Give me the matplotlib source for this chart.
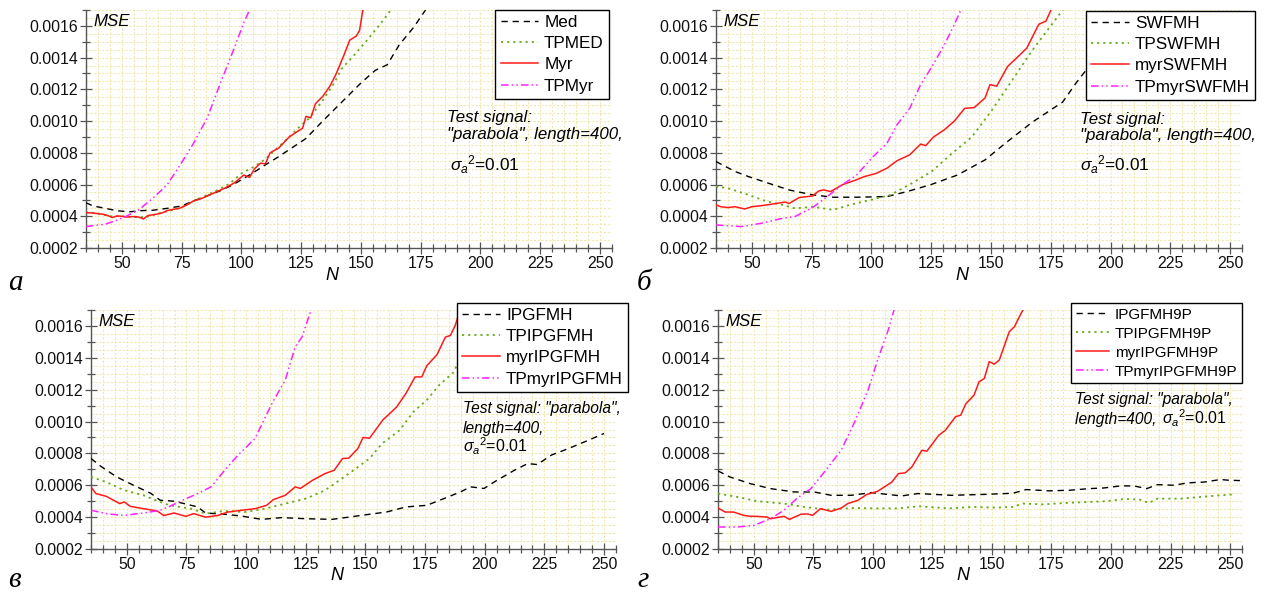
import numpy as np
import matplotlib
matplotlib.use("Agg")
import matplotlib.pyplot as plt

plt.rcParams['font.family'] = ['Liberation Sans', 'DejaVu Sans']
plt.rcParams['mathtext.fontset'] = 'custom'
plt.rcParams['mathtext.rm'] = 'Liberation Sans'
plt.rcParams['mathtext.it'] = 'Liberation Sans:italic'

SCALE = 1e-4  # values below are in units of 1e-4

# ---------------- panel a ----------------
a_med_x = [35, 38, 43, 48, 53, 59, 63, 69, 75, 80, 85, 91, 96, 100, 105, 110, 115, 120, 127, 134, 138, 142, 146, 150, 156, 161, 166, 172, 177]
a_med_y = [4.85, 4.65, 4.5, 4.35, 4.28, 4.36, 4.38, 4.5, 4.65, 4.97, 5.25, 5.6, 5.95, 6.3, 6.75, 7.24, 7.7, 8.2, 8.9, 10.0, 10.6, 11.2, 11.8, 12.4, 13.2, 13.55, 14.8, 15.9, 17.0]
a_tpmed_x = [35, 40, 45, 50, 55, 60, 65, 70, 75, 80, 85, 90, 95, 100, 105, 110, 115, 120, 124, 128.5, 134, 138, 142, 148, 152, 158, 163]
a_tpmed_y = [4.25, 4.18, 4.0, 4.0, 3.95, 3.95, 4.15, 4.35, 4.55, 4.95, 5.3, 5.65, 6.05, 6.7, 7.1, 7.6, 8.3, 9.0, 9.6, 10.2, 11.3, 12.2, 13.3, 14.3, 15.0, 16.1, 17.1]
a_myr_x = [35, 38, 42, 44, 46, 48, 50, 52, 54.5, 57, 59, 61, 64.5, 67, 69, 72, 74, 77, 80, 83, 86, 89, 93, 97, 101, 103.4, 105.5, 108, 110, 112, 115.6, 120, 123, 125.6, 127, 129, 131, 134, 137, 139.7, 143, 145.3, 148, 149.4, 151]
a_myr_y = [4.23, 4.2, 4.13, 4.05, 3.92, 4.02, 4.0, 3.95, 3.98, 3.95, 3.83, 4.05, 4.13, 4.22, 4.36, 4.45, 4.5, 4.7, 4.97, 5.1, 5.3, 5.5, 5.77, 6.1, 6.6, 6.45, 7.0, 7.35, 7.3, 8.0, 8.3, 9.0, 9.3, 9.55, 10.3, 10.2, 11.1, 11.55, 12.2, 13.0, 14.2, 15.1, 15.35, 15.7, 17.2]
a_tpmyr_x = [35, 43, 47, 51.6, 57, 63, 69, 74, 80, 85.7, 91, 97, 101, 104]
a_tpmyr_y = [3.35, 3.5, 3.7, 3.98, 4.4, 5.14, 6.0, 7.14, 8.6, 10.2, 12.3, 14.6, 16.2, 17.2]

# ---------------- panel b ----------------
b_sw_x = [35, 43, 48.6, 57, 65.5, 75.4, 84, 94, 106.5, 115, 125, 136, 147.5, 156, 167, 174, 180, 185.6, 191, 197, 203]
b_sw_y = [7.45, 6.82, 6.5, 6.08, 5.66, 5.35, 5.2, 5.2, 5.24, 5.56, 6.0, 6.6, 7.55, 8.6, 9.9, 10.6, 11.2, 12.4, 13.45, 14.6, 15.6]
b_tpsw_x = [35, 40, 48.6, 55.6, 62.7, 68, 75.4, 84, 91, 98, 108, 116, 125, 133, 142, 150, 159, 167, 174, 180]
b_tpsw_y = [5.87, 5.77, 5.35, 4.97, 4.72, 4.5, 4.6, 4.4, 4.72, 4.97, 5.35, 6.0, 6.8, 7.87, 9.0, 10.6, 12.6, 14.4, 15.8, 17.0]
b_myrsw_x = [35, 37, 40, 43, 47, 50, 55.6, 60, 64, 65.5, 69.8, 75.4, 78, 80, 83, 88, 93.8, 97, 102, 106.5, 110.7, 116, 120.6, 122.7, 126, 130.5, 134.7, 139, 143, 147.5, 149.6, 152.4, 157, 161.6, 165, 170, 173, 175.7]
b_myrsw_y = [4.72, 4.6, 4.55, 4.6, 4.46, 4.6, 4.7, 4.8, 4.9, 4.8, 5.18, 5.28, 5.6, 5.66, 5.56, 6.0, 6.3, 6.5, 6.7, 7.03, 7.5, 7.87, 8.55, 8.45, 9.0, 9.45, 10.0, 10.8, 10.85, 11.45, 12.3, 12.2, 13.45, 14.1, 14.6, 16.1, 16.3, 17.2]
b_tpmyrsw_x = [35, 45.8, 54, 62.7, 68, 75.4, 81, 88, 93.8, 100.8, 106.5, 110.7, 116, 120.6, 125, 130.5, 134.7, 138]
b_tpmyrsw_y = [3.45, 3.35, 3.56, 3.87, 3.98, 4.55, 5.18, 6.0, 6.6, 7.77, 8.6, 9.77, 10.8, 12.3, 13.35, 14.8, 16.1, 17.2]

# ---------------- panel c ----------------
c_ip_x = [35, 39, 45.8, 52.8, 60, 64, 69.8, 74, 79.7, 83, 91, 98, 106.5, 115, 125, 136, 143, 151.7, 158.8, 167, 175.7, 182.8, 189.8, 194, 199.7, 205, 212.4, 218, 222, 228, 235, 243.5, 250]
c_ip_y = [7.68, 7.2, 6.52, 6.0, 5.5, 5.06, 5.0, 4.85, 4.64, 4.26, 4.18, 4.07, 3.86, 3.97, 3.9, 3.86, 4.0, 4.18, 4.32, 4.64, 4.74, 5.16, 5.58, 5.9, 5.8, 6.3, 6.94, 7.36, 7.3, 7.9, 8.3, 8.83, 9.25]
c_tpip_x = [35, 41.5, 48.6, 57, 64, 68, 76.8, 83, 91, 99.4, 108, 116.4, 125, 133, 139, 146, 151.7, 157, 164.4, 170, 175.7, 181, 187, 190, 195]
c_tpip_y = [6.52, 6.2, 5.7, 5.37, 4.95, 4.74, 4.53, 4.22, 4.39, 4.32, 4.53, 4.85, 5.16, 5.68, 6.3, 7.05, 7.68, 8.62, 9.46, 10.6, 11.35, 12.3, 13.1, 14.1, 15.5]
c_myrip_x = [35, 37, 41.5, 47, 49, 51.4, 57, 62.7, 65.5, 69.8, 74.7, 78, 83, 88, 92.4, 98, 103.7, 108.6, 111.4, 116.4, 120.6, 122.7, 127.7, 133, 136.9, 140.4, 143, 146.8, 149, 151.7, 157.3, 163, 167, 170.8, 173.6, 175.7, 180, 183.5, 185.6, 187.7, 190]
c_myrip_y = [5.9, 5.48, 5.3, 4.85, 4.95, 4.68, 4.53, 4.39, 4.1, 4.26, 4.05, 4.22, 4.0, 4.1, 4.32, 4.43, 4.53, 4.74, 5.1, 5.37, 5.9, 5.8, 6.3, 6.73, 6.94, 7.68, 7.7, 8.3, 9.0, 8.95, 10.1, 10.9, 11.77, 12.8, 12.8, 13.5, 14.2, 15.3, 15.4, 16.06, 17.2]
c_tpmyrip_x = [35, 41.5, 48.6, 57, 64, 68, 74, 79.7, 85.3, 91, 96.6, 103.7, 110.7, 116.4, 120.6, 123.4, 127.7]
c_tpmyrip_y = [4.43, 4.22, 4.1, 4.26, 4.43, 4.68, 5.1, 5.48, 5.9, 6.94, 7.89, 8.93, 11.1, 12.6, 14.7, 15.3, 17.2]

# ---------------- panel d ----------------
d_ip9_x = [35, 40, 48.6, 57, 67, 75.4, 82.5, 91, 99.4, 112, 119, 133, 147.5, 158.8, 164.4, 174, 182.8, 191, 197, 204, 209.6, 215, 219.5, 226.6, 232, 239, 246, 249, 255]
d_ip9_y = [6.9, 6.52, 6.1, 5.79, 5.58, 5.58, 5.37, 5.37, 5.54, 5.33, 5.48, 5.37, 5.43, 5.5, 5.73, 5.65, 5.69, 5.79, 5.83, 5.96, 5.96, 5.79, 6.04, 6.0, 6.15, 6.2, 6.36, 6.32, 6.29]
d_tpip9_x = [35, 43, 51.4, 62.7, 71, 81, 91, 102, 110.7, 119, 132, 142, 151.7, 158.8, 163, 171.5, 181, 190, 198, 206, 212, 215.9, 219.5, 229.4, 237.8, 246, 252]
d_tpip9_y = [5.48, 5.27, 5.0, 4.85, 4.64, 4.47, 4.57, 4.55, 4.55, 4.68, 4.55, 4.64, 4.6, 4.64, 4.85, 4.8, 4.89, 4.95, 5.0, 5.14, 5.1, 4.89, 5.16, 5.16, 5.27, 5.37, 5.43]
d_myrip9_x = [35, 38, 41.5, 45.8, 48.6, 51.4, 55.6, 57, 62.7, 65, 69.8, 72.6, 74.7, 78, 82.5, 86.7, 89.5, 93.8, 97.3, 102, 108, 110.7, 113.6, 116.4, 120.6, 122.7, 127.7, 130.5, 134.7, 136.9, 139, 142.5, 144.6, 146.8, 148.9, 151, 153.1, 157.3, 159.5, 161.6, 163.7]
d_myrip9_y = [4.57, 4.32, 4.32, 4.11, 4.05, 4.05, 4.0, 3.9, 4.05, 3.86, 4.18, 4.2, 4.11, 4.53, 4.36, 4.57, 4.85, 5.06, 5.41, 5.62, 6.2, 6.73, 6.78, 7.15, 8.2, 8.14, 9.14, 9.46, 10.3, 10.4, 11.1, 11.66, 12.5, 12.7, 13.76, 13.6, 13.86, 15.64, 15.96, 16.6, 17.2]
d_tpmyrip9_x = [35, 43, 50, 57, 62.7, 68, 74, 79.7, 86.7, 92.4, 98, 102, 106.5, 109.3]
d_tpmyrip9_y = [3.38, 3.38, 3.48, 3.9, 4.43, 5.16, 5.79, 6.84, 8.2, 9.98, 11.97, 13.86, 15.75, 17.2]

labels_a = ["Med", "TPMED", "Myr", "TPMyr"]
labels_b = ["SWFMH", "TPSWFMH", "myrSWFMH", "TPmyrSWFMH"]
labels_c = ["IPGFMH", "TPIPGFMH", "myrIPGFMH", "TPmyrIPGFMH"]
labels_d = ["IPGFMH9P", "TPIPGFMH9P", "myrIPGFMH9P", "TPmyrIPGFMH9P"]

xticks = [50, 75, 100, 125, 150, 175, 200, 225, 250]
yticks = [0.0002, 0.0004, 0.0006, 0.0008, 0.0010, 0.0012, 0.0014, 0.0016]

W, H = 1268, 595
fig = plt.figure(figsize=(W / 100, H / 100), dpi=100)
fig.patch.set_facecolor('white')

def px_rect(l, t, r, b):
    return [l / W, 1 - b / H, (r - l) / W, (b - t) / H]

styles = [
    dict(color='black', ls=(0, (4.5, 3.5)), lw=1.0),
    dict(color='#6aaa1e', ls=(0, (1.2, 2.2)), lw=1.3),
    dict(color='#ff1a1a', ls='-', lw=1.1),
    dict(color='#ff22ff', ls=(0, (5, 2, 1, 2, 1, 2)), lw=1.1),
]

SPINE = '#555555'
GRID = '#efe8b0'

panels = [
    (px_rect(86, 10, 612, 248), [(a_med_x, a_med_y), (a_tpmed_x, a_tpmed_y), (a_myr_x, a_myr_y), (a_tpmyr_x, a_tpmyr_y)], labels_a, (609, 10), 12.3, 0.36),
    (px_rect(716, 10, 1242, 248), [(b_sw_x, b_sw_y), (b_tpsw_x, b_tpsw_y), (b_myrsw_x, b_myrsw_y), (b_tpmyrsw_x, b_tpmyrsw_y)], labels_b, (1255, 11), 12.3, 0.36),
    (px_rect(91, 310, 616, 549), [(c_ip_x, c_ip_y), (c_tpip_x, c_tpip_y), (c_myrip_x, c_myrip_y), (c_tpmyrip_x, c_tpmyrip_y)], labels_c, (628, 303), 12.3, 0.36),
    (px_rect(718, 310, 1242, 549), [(d_ip9_x, d_ip9_y), (d_tpip9_x, d_tpip9_y), (d_myrip9_x, d_myrip9_y), (d_tpmyrip9_x, d_tpmyrip9_y)], labels_d, (1242, 303), 11.0, 0.33),
]

for rect, series, labels, legpos, legfs, lsp in panels:
    ax = fig.add_axes(rect)
    ax.set_xlim(35, 255)
    ax.set_ylim(0.0002, 0.0017)
    # grid
    for gx in np.arange(35, 256, 5):
        ax.axvline(gx, color=GRID, lw=0.8, ls=(0, (2, 1.5)), zorder=0)
    for gy in np.arange(0.0002, 0.00171, 0.00005):
        ax.axhline(gy, color=GRID, lw=0.8, ls=(0, (2, 1.5)), zorder=0)
    handles = []
    for (xs, ys), st, lab in zip(series, styles, labels):
        h, = ax.plot(xs, np.array(ys) * SCALE, label=lab, zorder=3, **st)
        handles.append(h)
    for s in ['top', 'right']:
        ax.spines[s].set_visible(False)
    for s in ['left', 'bottom']:
        ax.spines[s].set_color(SPINE)
        ax.spines[s].set_linewidth(1.0)
    ax.set_xticks(xticks)
    ax.set_xticks(np.arange(35, 256, 5), minor=True)
    ax.set_yticks(yticks)
    ax.set_yticks(np.arange(0.0002, 0.00171, 0.0001), minor=True)
    ax.set_yticklabels([f"{v:.4f}" for v in yticks])
    ax.tick_params(which='both', direction='inout', color=SPINE, width=0.9, labelsize=11.4, labelcolor='#111111')
    ax.tick_params(which='major', length=8, pad=2)
    ax.tick_params(which='minor', length=6)
    ax.text(0.015, 0.985, "MSE", transform=ax.transAxes, style='italic', fontsize=12.2, va='top', ha='left')
    leg = fig.legend(handles=handles, loc='upper right',
                     bbox_to_anchor=(legpos[0] / W, 1 - legpos[1] / H),
                     fontsize=legfs, frameon=True, fancybox=False, shadow=False,
                     framealpha=1.0, edgecolor='black', borderpad=0.3,
                     labelspacing=lsp, handlelength=2.2, handletextpad=0.35,
                     borderaxespad=0)
    leg.get_frame().set_linewidth(1.0)

def ftext(x, y, s, **kw):
    return fig.text(x / W, 1 - y / H, s, **kw)

# N axis labels
for (x, y) in [(332, 280), (962, 280), (337, 580), (963, 580)]:
    ftext(x, y, "N", style='italic', fontsize=13, ha='center', va='baseline')

# panel letters
for (x, y, s) in [(8, 290, "а"), (637, 290, "б"), (8, 587, "в"), (637, 587, "г")]:
    ftext(x, y, s, family=['Liberation Serif', 'DejaVu Serif'], style='italic', fontsize=21, ha='left', va='baseline')

sig = r'$\sigma_a{}^2$=0.01'
# annotations a
ftext(447, 122, "Test signal:", style='italic', fontsize=12.2, va='baseline')
ftext(447, 139, '"parabola", length=400,', style='italic', fontsize=12.2, va='baseline')
ftext(450, 171, sig, fontsize=12.4, va='baseline')
# annotations b
ftext(1080, 124, "Test signal:", style='italic', fontsize=12.2, va='baseline')
ftext(1080, 140, '"parabola", length=400,', style='italic', fontsize=12.2, va='baseline')
ftext(1080, 171, sig, fontsize=12.4, va='baseline')
# annotations c
ftext(463, 413, 'Test signal: "parabola",', style='italic', fontsize=11.2, va='baseline')
ftext(463, 433, "length=400,", style='italic', fontsize=11.2, va='baseline')
ftext(463, 452, sig, fontsize=11.4, va='baseline')
# annotations d
ftext(1075, 404, 'Test signal: "parabola",', style='italic', fontsize=11.2, va='baseline')
t1 = ftext(1075, 424, "length=400, ", style='italic', fontsize=11.2, va='baseline')
fig.canvas.draw()
bb = t1.get_window_extent(renderer=fig.canvas.get_renderer())
fig.text(bb.x1 / W + 1.0 / W, 1 - 424 / H, sig, fontsize=11.4, va='baseline')

fig.savefig("out.png", dpi=100, facecolor='white')
